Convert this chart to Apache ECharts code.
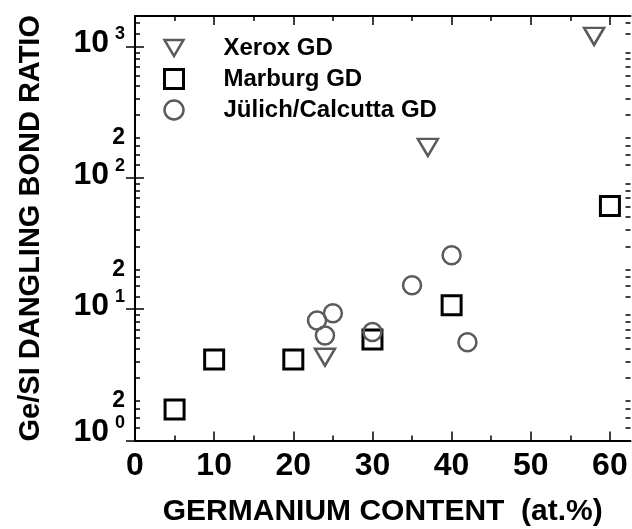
<!DOCTYPE html>
<html>
<head>
<meta charset="utf-8">
<script src="https://cdn.jsdelivr.net/npm/echarts@6/dist/echarts.min.js"></script>
<style>html,body{margin:0;padding:0;background:#fff}#c{width:632px;height:529px}</style>
</head>
<body>
<div id="c"></div>
<script>
// ---- data ----
const xeroxX = [24, 37, 58];
const xeroxY = [4.3, 170, 1190];
const marburgX = [5, 10, 20, 30, 40, 60];
const marburgY = [1.72, 4.13, 4.13, 5.87, 10.7, 61];
const julichX = [23, 24, 25, 30, 35, 40, 42];
const julichY = [8.2, 6.3, 9.3, 6.7, 15.2, 25.7, 5.6];

const seriesNames = ['Xerox GD', 'Marburg GD', 'Jülich/Calcutta GD'];

const xMajorTicks = [0, 10, 20, 30, 40, 50, 60];
const xMinorTicks = [5, 15, 25, 35, 45, 55];
const xMin = 0, xMax = 62.6;

const yMajorTicks = [1, 10, 100, 1000];
const yMinorTicks = [1.25, 1.5, 1.75, 2, 3, 4, 5, 6, 7, 8, 9,
  12.5, 15, 17.5, 20, 30, 40, 50, 60, 70, 80, 90,
  125, 150, 175, 200, 300, 400, 500, 600, 700, 800, 900,
  1250, 1500];
const yLabelValues = [1, 2, 10, 20, 100, 200, 1000];
const yMin = 1, yMax = 1700;

const xTitle = 'GERMANIUM CONTENT  (at.%)';
const yTitle = 'Ge/SI DANGLING BOND RATIO';

// ---- chart ----
const FONT = '"Liberation Sans", Arial, Helvetica, sans-serif';
const zip = (a, b) => a.map((v, i) => [v, b[i]]);
const downTri = 'path://M0,0L20,0L10,17Z';
const square = 'path://M0,0L10,0L10,10L0,10Z';
const gray = '#5a5a5a';

function yFmt(v) {
  const e = Math.round(Math.log10(v));
  const m = v / Math.pow(10, e);
  if (Math.abs(m - 1) < 1e-6) {
    return e === 0 ? '{b0|10}{s0|' + e + '}' : '{b|10}{s|' + e + '}';
  }
  return '{t|' + Math.round(v / Math.pow(10, Math.floor(Math.log10(v) + 1e-9))) + '}';
}

const lineStyle = { color: '#000', width: 2 };
function xAx(pos, ticks, len, labels, extra) {
  return Object.assign({
    type: 'value', position: pos, min: xMin, max: xMax,
    axisLine: { show: !!labels || len > 6, lineStyle: lineStyle, onZero: false },
    axisTick: { show: true, inside: true, length: len, customValues: ticks, lineStyle: { color: '#000', width: 1.5 } },
    axisLabel: labels ? {
      show: true, customValues: labels, margin: 10, color: '#000',
      showMinLabel: true, showMaxLabel: true,
      fontFamily: FONT, fontSize: 32, fontWeight: 'bold'
    } : { show: false },
    splitLine: { show: false }
  }, extra || {});
}
function yAx(pos, ticks, len, labels, extra) {
  return Object.assign({
    type: 'log', logBase: 10, position: pos, min: yMin, max: yMax,
    axisLine: { show: !!labels || len > 6, lineStyle: lineStyle, onZero: false },
    axisTick: { show: true, inside: true, length: len, customValues: ticks, lineStyle: { color: '#000', width: 1.5 } },
    axisLabel: labels ? {
      show: true, customValues: labels, margin: 10, color: '#000',
      showMinLabel: true, showMaxLabel: true,
      formatter: yFmt,
      rich: {
        b: { fontFamily: FONT, fontSize: 32, fontWeight: 'bold', color: '#000', lineHeight: 30, padding: [0, 0, 6, 0] },
        s: { fontFamily: FONT, fontSize: 18, fontWeight: 'bold', color: '#000', lineHeight: 12, padding: [0, 0, 24, 6] },
        b0: { fontFamily: FONT, fontSize: 32, fontWeight: 'bold', color: '#000', lineHeight: 30, padding: [0, 0, 16, 0] },
        s0: { fontFamily: FONT, fontSize: 18, fontWeight: 'bold', color: '#000', lineHeight: 12, padding: [0, 0, 34, 6] },
        t: { fontFamily: FONT, fontSize: 23, fontWeight: 'bold', color: '#000', lineHeight: 14 }
      }
    } : { show: false },
    splitLine: { show: false }
  }, extra || {});
}

const chart = echarts.init(document.getElementById('c'), null, { renderer: 'canvas' });
chart.setOption({
  backgroundColor: '#fff',
  animation: false,
  grid: { left: 135, right: 1.5, top: 16, bottom: 88.5, containLabel: false, outerBoundsMode: 'none' },
  legend: {
    orient: 'vertical', left: 163, top: 36, padding: 0,
    itemWidth: 19, itemHeight: 19, itemGap: 7,
    textStyle: { fontFamily: FONT, fontSize: 24, fontWeight: 'bold', color: '#000', padding: [0, 0, 0, 35] },
    data: [
      { name: seriesNames[0], icon: downTri, itemStyle: { borderWidth: 2.5 } },
      { name: seriesNames[1], icon: square, itemStyle: { borderWidth: 3 } },
      { name: seriesNames[2], icon: 'circle', itemStyle: { borderWidth: 2.5 } }
    ],
    selectedMode: false
  },
  xAxis: [
    xAx('bottom', xMajorTicks, 9, xMajorTicks, {
      name: xTitle, nameLocation: 'middle', nameGap: 56,
      nameTextStyle: { fontFamily: FONT, fontSize: 30, fontWeight: 'bold', color: '#000' }
    }),
    xAx('bottom', xMinorTicks, 5, null),
    xAx('top', xMajorTicks, 9, null, { axisLine: { show: true, lineStyle: lineStyle } }),
    xAx('top', xMinorTicks, 5, null)
  ],
  yAxis: [
    yAx('left', yMajorTicks, 9, yLabelValues, {
      name: yTitle, nameLocation: 'middle', nameGap: 90, nameRotate: 90,
      nameTextStyle: { fontFamily: FONT, fontSize: 29, fontWeight: 'bold', color: '#000' }
    }),
    yAx('left', yMinorTicks, 5, null),
    yAx('right', yMajorTicks, 9, null, { axisLine: { show: true, lineStyle: lineStyle } }),
    yAx('right', yMinorTicks, 5, null)
  ],
  series: [
    {
      name: seriesNames[0], type: 'scatter', xAxisIndex: 0, yAxisIndex: 0,
      data: zip(xeroxX, xeroxY), symbol: downTri, symbolSize: [20, 17],
      itemStyle: { color: 'rgba(0,0,0,0)', borderColor: gray, borderWidth: 2.5, opacity: 1 },
      emphasis: { disabled: true }
    },
    {
      name: seriesNames[1], type: 'scatter', xAxisIndex: 0, yAxisIndex: 0,
      data: zip(marburgX, marburgY), symbol: square, symbolSize: 19,
      itemStyle: { color: 'rgba(0,0,0,0)', borderColor: '#000', borderWidth: 3, opacity: 1 },
      emphasis: { disabled: true }
    },
    {
      name: seriesNames[2], type: 'scatter', xAxisIndex: 0, yAxisIndex: 0,
      data: zip(julichX, julichY), symbol: 'circle', symbolSize: 18,
      itemStyle: { color: 'rgba(0,0,0,0)', borderColor: gray, borderWidth: 2.5, opacity: 1 },
      emphasis: { disabled: true }
    }
  ]
});
</script>
</body>
</html>
